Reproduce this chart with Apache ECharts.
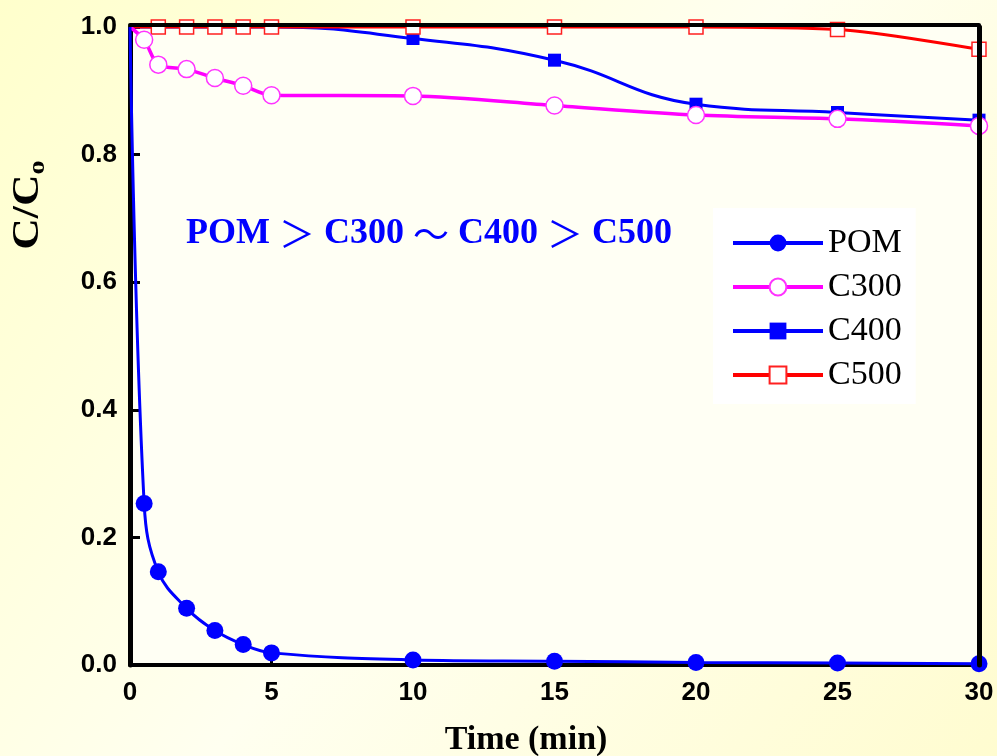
<!DOCTYPE html>
<html>
<head>
<meta charset="utf-8">
<script src="https://cdn.jsdelivr.net/npm/echarts@6/dist/echarts.min.js"></script>
<style>
html,body{margin:0;padding:0;}
#chart{width:997px;height:756px;}
</style>
</head>
<body>
<div id="chart"></div>
<script>
// ---- data ----
const seriesNames = ['POM', 'C300', 'C400', 'C500'];
const pomTime  = [0, 0.5, 1, 2, 3, 4, 5, 10, 15, 20, 25, 30];
const pomVal   = [1.0, 0.253, 0.146, 0.089, 0.054, 0.032, 0.019, 0.008, 0.006, 0.004, 0.003, 0.002];
const c300Time = [0, 0.5, 1, 2, 3, 4, 5, 10, 15, 20, 25, 30];
const c300Val  = [1.0, 0.980, 0.941, 0.934, 0.920, 0.908, 0.893, 0.892, 0.877, 0.862, 0.856, 0.845];
const c400Time = [0, 5, 10, 15, 20, 25, 30];
const c400Val  = [1.0, 1.0, 0.982, 0.948, 0.879, 0.866, 0.854];
const c500Time = [0, 1, 2, 3, 4, 5, 10, 15, 20, 25, 30];
const c500Val  = [1.0, 1.0, 1.0, 1.0, 1.0, 1.0, 1.0, 1.0, 1.0, 0.996, 0.965];
const xTicks = { min: 0, max: 30, step: 5 };
const yTicks = { min: 0, max: 1.0, step: 0.2 };
const xTitle = 'Time (min)';
const annotationParts = ['POM', '＞', 'C300', '～', 'C400', '＞', 'C500'];

function pairs(t, v) { return t.map((x, i) => [x, v[i]]); }

const chart = echarts.init(document.getElementById('chart'), null, { renderer: 'canvas' });
const serif = '"Liberation Serif", "Times New Roman", serif';
const sans = '"Liberation Sans", Arial, sans-serif';
const hideAtZero = (size) => (val) => (val[0] === 0 ? 0 : size);

const annotationRich = annotationParts
  .map((p, i) => (i % 2 === 0 ? '{t|' + p + '}' : '{t| }{s|' + p + '}{t| }'))
  .join('');

const option = {
  backgroundColor: new echarts.graphic.LinearGradient(0, 0, 1, 1, [
    { offset: 0, color: '#ffffcc' },
    { offset: 0.5, color: '#fffff0' },
    { offset: 1, color: '#fffcd0' }
  ]),
  animation: false,
  grid: {
    left: 130, right: 18, top: 27, bottom: 91,
    show: true, backgroundColor: '#fffff4', borderWidth: 0
  },
  legend: {
    orient: 'vertical',
    left: 713, top: 208,
    data: seriesNames,
    backgroundColor: '#ffffff',
    padding: [18, 14, 12, 18],
    itemWidth: 90, itemHeight: 21, itemGap: 10,
    lineStyle: { width: 4 },
    textStyle: { fontFamily: serif, fontSize: 34, color: '#000' }
  },
  xAxis: [{
    type: 'value', min: xTicks.min, max: xTicks.max, interval: xTicks.step,
    axisLine: { onZero: false, lineStyle: { color: '#000', width: 4 } },
    axisTick: { inside: true, length: 9, lineStyle: { color: '#000', width: 3 } },
    axisLabel: { margin: 15, fontFamily: sans, fontWeight: 'bold', fontSize: 26, color: '#000' },
    splitLine: { show: false }
  }, {
    type: 'value', position: 'top', offset: 2, min: xTicks.min, max: xTicks.max, z: 10,
    axisLine: { show: true, onZero: false, lineStyle: { color: '#000', width: 4 } },
    axisTick: { show: false }, axisLabel: { show: false }, splitLine: { show: false }
  }],
  yAxis: [{
    type: 'value', min: yTicks.min, max: yTicks.max, interval: yTicks.step,
    axisLine: { show: true, onZero: false, lineStyle: { color: '#000', width: 5 } },
    axisTick: { show: true, inside: true, length: 10, lineStyle: { color: '#000', width: 3 } },
    axisLabel: { margin: 13, fontFamily: sans, fontWeight: 'bold', fontSize: 26, color: '#000',
      formatter: (v) => v.toFixed(1) },
    splitLine: { show: false }
  }, {
    type: 'value', position: 'right', min: yTicks.min, max: yTicks.max, z: 10,
    axisLine: { show: true, onZero: false, lineStyle: { color: '#000', width: 5 } },
    axisTick: { show: false }, axisLabel: { show: false }, splitLine: { show: false }
  }],
  series: [
    {
      name: 'C400', type: 'line', smooth: 0.45, data: pairs(c400Time, c400Val),
      symbol: 'rect', symbolSize: hideAtZero(13), showAllSymbol: true,
      lineStyle: { color: '#0000ff', width: 3 },
      itemStyle: { color: '#0000ff' }
    },
    {
      name: 'C500', type: 'line', smooth: 0.3, data: pairs(c500Time, c500Val),
      symbol: 'rect', symbolSize: hideAtZero(14), showAllSymbol: true,
      lineStyle: { color: '#ff0000', width: 3 },
      itemStyle: { color: '#ffffff', borderColor: '#ff2020', borderWidth: 1.5 }
    },
    {
      name: 'C300', type: 'line', smooth: 0.3, data: pairs(c300Time, c300Val),
      symbol: 'circle', symbolSize: hideAtZero(17), showAllSymbol: true,
      lineStyle: { color: '#ff00ff', width: 3.5 },
      itemStyle: { color: '#ffffff', borderColor: '#ff33ff', borderWidth: 1.5 }
    },
    {
      name: 'POM', type: 'line', smooth: 0.4, data: pairs(pomTime, pomVal),
      symbol: 'circle', symbolSize: hideAtZero(17), showAllSymbol: true,
      lineStyle: { color: '#0000ff', width: 3 },
      itemStyle: { color: '#0000ff' }
    }
  ],
  graphic: [
    {
      type: 'text', left: 186, top: 216, z: 20,
      style: {
        text: annotationRich,
        rich: {
          t: { font: 'bold 36px ' + serif, fill: '#0000ff' },
          s: { font: 'normal 36px "Noto Sans CJK JP"', fill: '#0000ff' }
        }
      }
    },
    {
      type: 'text', x: 526, y: 740, z: 20,
      style: { text: xTitle, fill: '#000', font: 'bold 34px ' + serif, align: 'center', verticalAlign: 'middle' }
    },
    {
      type: 'text', x: 28, y: 205, rotation: Math.PI / 2, scaleX: 1.18, z: 20,
      style: {
        text: '{a|C/C}{b|o}', align: 'center', verticalAlign: 'middle',
        rich: {
          a: { font: 'bold 37px ' + serif, fill: '#000', lineHeight: 44 },
          b: { font: 'bold 24px ' + serif, fill: '#000', lineHeight: 24, verticalAlign: 'bottom' }
        }
      }
    }
  ]
};
chart.setOption(option);
</script>
</body>
</html>
